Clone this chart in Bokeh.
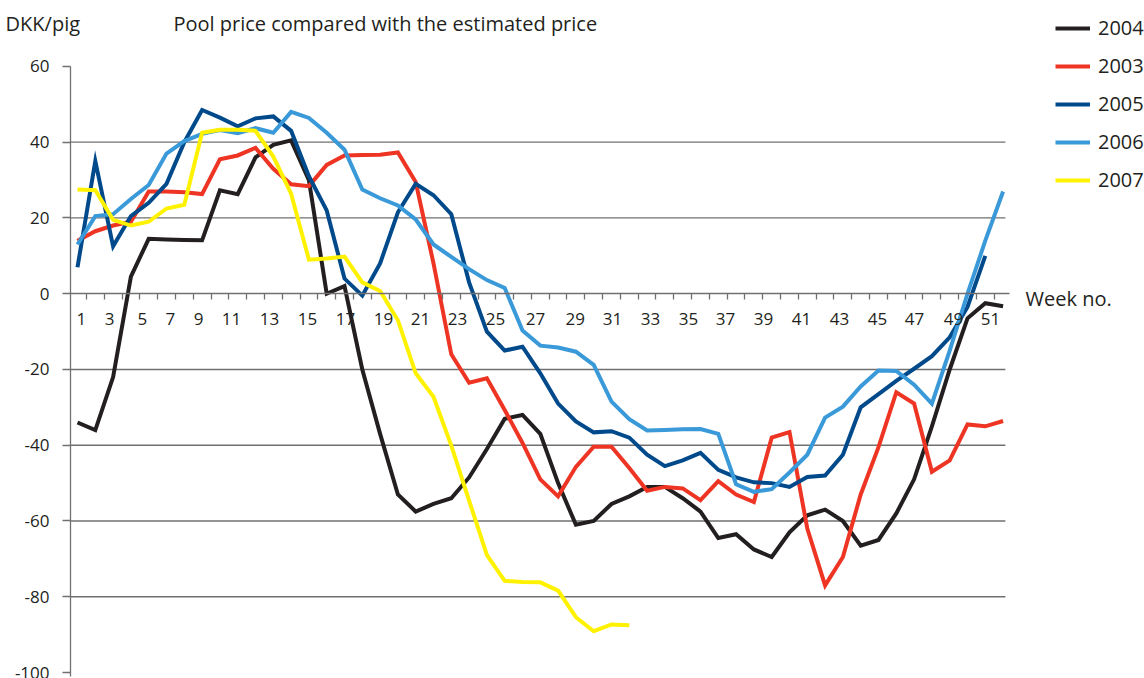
from bokeh.plotting import figure
from bokeh.models import Range1d, FixedTicker, Label, Legend, LegendItem
from bokeh.embed import file_html
from bokeh.resources import INLINE

# ---------------- data ----------------
weeks = list(range(1, 54))

y2004 = [-34, -36, -22, 4.5, 14.5, 14.3, 14.2, 14.1, 27.3, 26.3,
         36, 39.3, 40.5, 30, 0, 2, -20, -37, -53, -57.5,
         -55.5, -54, -48.5, -41, -33, -32, -37, -50, -61, -60,
         -55.5, -53.5, -51, -51, -54, -57.5, -64.5, -63.5, -67.5, -69.5,
         -63, -58.5, -57, -60, -66.5, -65, -58, -49, -35, -20,
         -6.5, -2.5, -3.3]

y2003 = [14, 16.5, 18, 19, 27, 27, 26.8, 26.3, 35.5, 36.5,
         38.5, 33, 28.9, 28.4, 34, 36.5, 36.6, 36.7, 37.3, 29.5,
         8, -16, -23.5, -22.3, -30.7, -39.4, -49, -53.5, -45.7, -40.4,
         -40.4, -46, -52, -51, -51.4, -54.5, -49.5, -53, -55, -38,
         -36.5, -62, -77, -69.5, -53, -40.5, -26, -29, -47, -44,
         -34.5, -35, -33.6]

y2005 = [7, 35, 12.5, 20.5, 24, 29, 40, 48.5, 46.5, 44.2,
         46.3, 46.8, 43, 31, 22, 4, -0.5, 8, 21.5, 29,
         26, 21, 3, -10, -15, -14, -21, -29, -33.7, -36.6,
         -36.3, -38, -42.5, -45.5, -44, -42, -46.5, -48.5, -49.8, -50,
         -51, -48.4, -48, -42.5, -30, -26.5, -23, -19.8, -16.5, -11.5,
         -3.5, 10]

y2006 = [13, 20.5, 21, 25, 28.7, 37, 40.3, 42.2, 43.2, 42.4,
         43.7, 42.5, 48, 46.4, 42.5, 38, 27.5, 25.2, 23.3, 19.6,
         13, 9.7, 6.5, 3.6, 1.5, -9.7, -13.7, -14.2, -15.3, -18.8,
         -28.5, -33.1, -36.1, -36, -35.8, -35.7, -37, -50.3, -52.3, -51.6,
         -47.2, -42.5, -32.7, -29.8, -24.5, -20.3, -20.4, -24, -29, -15,
         0, 14, 27]

y2007 = [27.5, 27.3, 19.5, 18, 19, 22.5, 23.5, 42.5, 43.3, 43.3,
         43, 36.2, 26.4, 9, 9.3, 9.8, 3, 0.7, -7, -21,
         -27.2, -40.1, -54.6, -69, -75.8, -76.1, -76.2, -78.4, -85.4, -89.1,
         -87.3, -87.5]

series_names = ["2004", "2003", "2005", "2006", "2007"]
series_values = [y2004, y2003, y2005, y2006, y2007]
series_colors = ["#231f20", "#ee3524", "#004a8c", "#3a99d8", "#fff200"]

week_labels = [str(w) for w in range(1, 52, 2)]
label_pos = [1.22, 2.80, 4.65, 6.22, 7.80, 9.65, 11.79, 13.92, 16.06, 18.19,
             20.27, 22.35, 24.48, 26.73, 28.96, 31.06, 33.19, 35.33, 37.40, 39.54,
             41.67, 43.81, 45.94, 48.02, 50.21, 52.29]
y_ticks = [-100, -80, -60, -40, -20, 0, 20, 40, 60]
y_tick_labels = ["-100", "-80", "-60", "-40", "-20", "0", "20", "40", "60"]
grid_vals = [-80, -60, -40, -20, 20, 40]

title_text = "Pool price compared with the estimated price"
unit_text = "DKK/pig"
xaxis_text = "Week no."

# ---------------- layout / style ----------------
FONT = "Open Sans"
TXT = "#231f20"
AX = "#707070"
X0, X1 = 0.607, 53.36          # plot area (weeks)
GRID_END = 53.13

p = figure(width=1144, height=678, output_backend="svg", toolbar_location=None,
           x_range=Range1d(-3.326, 60.944), y_range=Range1d(-101.58, 77.41),
           min_border_left=0, min_border_right=0, min_border_top=0,
           min_border_bottom=0)
p.outline_line_color = None
p.background_fill_color = "white"
p.border_fill_color = "white"
p.xgrid.visible = False
p.ygrid.visible = False

# horizontal reference lines limited to the plot area
p.segment(x0=[X0] * len(grid_vals), y0=grid_vals,
          x1=[GRID_END] * len(grid_vals), y1=grid_vals,
          line_color=AX, line_width=1.3)

xa = p.xaxis[0]
xa.fixed_location = 0
xa.bounds = (X0, X1)
xa.ticker = FixedTicker(ticks=label_pos, minor_ticks=[w + 0.5 for w in weeks[:-1]])
xa.major_label_overrides = dict(zip(label_pos, week_labels))
xa.major_tick_line_color = None
xa.major_tick_in = 0
xa.major_tick_out = 6
xa.minor_tick_in = 0
xa.minor_tick_out = 6
xa.minor_tick_line_color = AX
xa.minor_tick_line_width = 1.3
xa.axis_line_color = AX
xa.axis_line_width = 1.3
xa.major_label_text_font = FONT
xa.major_label_text_font_size = "17px"
xa.major_label_text_color = TXT
xa.major_label_standoff = 13

ya = p.yaxis[0]
ya.fixed_location = X0
ya.ticker = FixedTicker(ticks=y_ticks)
ya.major_label_overrides = dict(zip(y_ticks, y_tick_labels))
ya.bounds = (-101, 60)
ya.major_tick_in = 0
ya.major_tick_out = 8
ya.major_tick_line_color = AX
ya.major_tick_line_width = 1.3
ya.minor_tick_line_color = None
ya.axis_line_color = AX
ya.axis_line_width = 1.3
ya.major_label_text_font = FONT
ya.major_label_text_font_size = "17px"
ya.major_label_text_color = TXT
ya.major_label_standoff = 13

items = []
for name, vals, col in zip(series_names, series_values, series_colors):
    r = p.line(weeks[:len(vals)], vals, line_width=4, line_color=col,
               line_join="miter")
    items.append(LegendItem(label=name, renderers=[r]))

legend = Legend(items=items, location=(1055, 485), orientation="vertical",
                border_line_color=None, background_fill_alpha=0,
                padding=0, margin=0, spacing=11, glyph_width=35,
                glyph_height=24, label_height=24, label_standoff=8,
                label_text_font=FONT, label_text_font_size="20px",
                label_text_color=TXT, label_text_baseline="middle")
p.add_layout(legend)

for txt, x, y in [(unit_text, -3.04, 71.35), (title_text, 6.39, 71.35),
                  (xaxis_text, 54.26, -1.3)]:
    p.add_layout(Label(x=x, y=y, text=txt, text_font=FONT,
                       text_font_size="20px", text_color=TXT,
                       text_baseline="middle", text_align="left"))

open("out.html", "w").write(file_html(p, INLINE))
